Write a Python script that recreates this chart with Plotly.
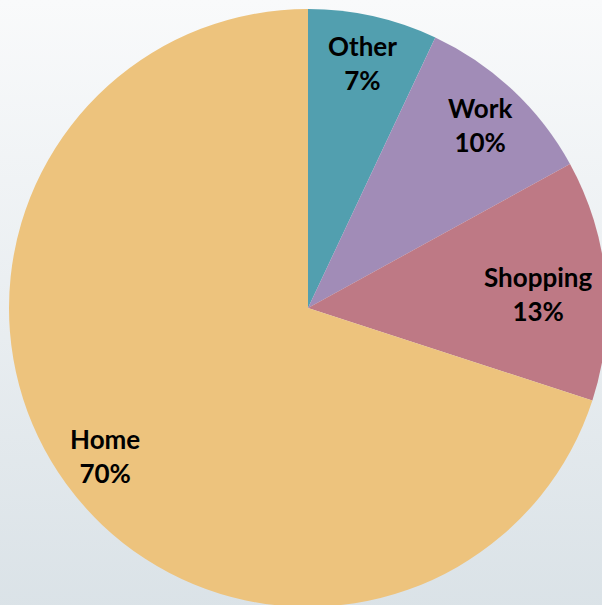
import math
import plotly.graph_objects as go

categories = ["Other", "Work", "Shopping", "Home"]
shares = [7, 10, 13, 70]
slice_colors = ["#529FAF", "#A18CB7", "#BE7985", "#EDC37D"]

W, H = 616, 616          # figure is larger than the 602x605 window; overflow is clipped
VIEW_W = 602
CX, CY, R = 308, 308, 299  # pie centre / radius in pixels
LABEL_FRAC = 0.84
FONT_SIZE = 26

fig = go.Figure()

# gradient background
fig.add_trace(go.Scatter(
    x=[0, 1, 1, 0, 0], y=[0, 0, 1, 1, 0], mode="lines", fill="toself",
    line=dict(width=0), hoverinfo="skip", showlegend=False,
    fillgradient=dict(type="vertical",
                      colorscale=[[0, "#dae2e7"], [1, "#f9fafb"]]),
))

fig.add_trace(go.Pie(
    labels=categories, values=shares, sort=False, direction="clockwise",
    rotation=0, marker=dict(colors=slice_colors, line=dict(width=0)),
    textinfo="none", showlegend=False,
    domain=dict(x=[(CX - R) / W, (CX + R) / W], y=[1 - (CY + R) / H, 1 - (CY - R) / H]),
))

total = sum(shares)
cum = 0
annotations = []
for name, v in zip(categories, shares):
    mid = (cum + v / 2) / total * 2 * math.pi
    cum += v
    px = CX + LABEL_FRAC * R * math.sin(mid)
    py = CY - LABEL_FRAC * R * math.cos(mid)
    half = 0.275 * FONT_SIZE * len(name)
    if px > VIEW_W - 7 - half:
        # pull the label inward along its radius so it stays inside the view
        scale = (VIEW_W - 7 - half - CX) / (px - CX)
        px = CX + (px - CX) * scale
        py = CY + (py - CY) * scale + 8
    pct = round(v / total * 100)
    annotations.append(dict(
        x=px / W, y=1 - py / H, xref="paper", yref="paper",
        text=f"{name}<br>{pct}%", showarrow=False, xanchor="center", yanchor="middle",
        font=dict(family="Lato", size=FONT_SIZE, color="black", weight="bold"),
    ))

fig.update_layout(
    width=W, height=H, margin=dict(l=0, r=0, t=0, b=0),
    paper_bgcolor="white", plot_bgcolor="rgba(0,0,0,0)",
    xaxis=dict(visible=False, range=[0, 1], domain=[0, 1], fixedrange=True),
    yaxis=dict(visible=False, range=[0, 1], domain=[0, 1], fixedrange=True),
    annotations=annotations,
)

fig.write_html("out.html", config={"displayModeBar": False},
               post_script="document.body.style.margin='0';document.body.style.overflow='hidden';document.documentElement.style.overflow='hidden';")
